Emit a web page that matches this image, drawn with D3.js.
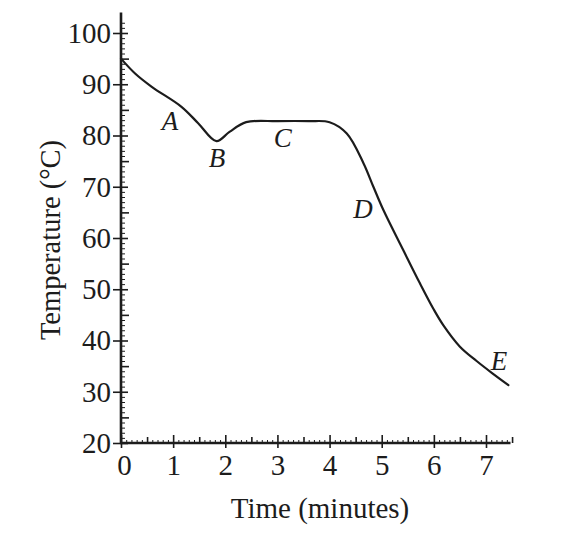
<!DOCTYPE html>
<html>
<head>
<meta charset="utf-8">
<script src="https://cdn.jsdelivr.net/npm/d3@7"></script>
<style>
  html, body { margin: 0; padding: 0; background: #fff; }
  svg { display: block; }
  text { font-family: "Liberation Serif", "DejaVu Serif", serif; fill: #1c1c1c; }
</style>
</head>
<body>
<svg id="chart" width="564" height="536"></svg>
<script>
// ---- data ----
const timeMin = [0, 0.27, 0.59, 1.16, 1.48, 1.83, 2.08, 2.4, 3.0, 3.6, 4.0, 4.33, 4.65, 4.84, 5.03, 5.41, 5.73, 5.99, 6.18, 6.5, 6.82, 7.11, 7.43];
const tempC   = [95, 92.1, 89.5, 85.6, 82.4, 78.9, 80.7, 82.6, 82.8, 82.8, 82.6, 80.4, 74.6, 70.0, 65.5, 57.7, 51.2, 46.2, 43.0, 38.8, 36.0, 33.7, 31.3];
const xTicks = [0, 1, 2, 3, 4, 5, 6, 7];
const yTicks = [20, 30, 40, 50, 60, 70, 80, 90, 100];
const pointLabels = ["A", "B", "C", "D", "E"];
const labelTime = [0.94, 1.84, 3.1, 4.64, 7.25];
const labelTemp = [81.1, 73.85, 77.8, 63.9, 34.2];

const svg = d3.select("#chart");
const x = d3.scaleLinear().domain([0, 7]).range([121, 486]);
const y = d3.scaleLinear().domain([20, 100]).range([443, 33]);
const ink = "#1c1c1c";

// minor ticks
const xHalf = d3.range(0.5, 7.6, 1);
const xTiny = d3.range(0, 7.45, 0.1).filter(v => Math.abs(v * 2 - Math.round(v * 2)) > 0.01);
const yFive = d3.range(25, 101, 10);
const yTiny = d3.range(20, 103, 1).filter(v => v % 5 !== 0);

function styleAxis(g) {
  g.select(".domain").remove();
  g.selectAll("line").attr("stroke", ink).attr("stroke-width", 1.6);
}

// Y axis tiny ticks
svg.append("g").attr("transform", `translate(${x(0)},0)`)
  .call(d3.axisRight(y).tickValues(yTiny).tickSize(4).tickFormat(""))
  .call(styleAxis).selectAll("line").attr("stroke-width", 1);
// Y axis 5-degree ticks
svg.append("g").attr("transform", `translate(${x(0)},0)`)
  .call(d3.axisRight(y).tickValues(yFive).tickSize(8).tickFormat(""))
  .call(styleAxis);
// Y major
const gy = svg.append("g").attr("transform", `translate(${x(0)},0)`)
  .call(d3.axisLeft(y).tickValues(yTicks).tickSize(8).tickPadding(4).tickFormat(d3.format("d")))
  .call(styleAxis);
gy.selectAll(".tick line").attr("x1", 7);
gy.selectAll(".tick text").attr("font-size", 29).attr("font-family", "Liberation Serif").attr("fill", ink).attr("x", -10);

// X tiny
svg.append("g").attr("transform", `translate(0,${y(20)})`)
  .call(d3.axisTop(x).tickValues(xTiny).tickSize(3).tickFormat(""))
  .call(styleAxis).selectAll("line").attr("stroke-width", 1);
// X half
svg.append("g").attr("transform", `translate(0,${y(20)})`)
  .call(d3.axisTop(x).tickValues(xHalf).tickSize(6).tickFormat(""))
  .call(styleAxis);
// X major
const gx = svg.append("g").attr("transform", `translate(0,${y(20)})`)
  .call(d3.axisBottom(x).tickValues(xTicks).tickSize(5).tickPadding(8).tickFormat(d3.format("d")))
  .call(styleAxis);
gx.selectAll(".tick line").attr("y1", -8);
gx.selectAll(".tick text").attr("font-size", 29).attr("font-family", "Liberation Serif").attr("fill", ink).attr("y", 11)
  .attr("dx", d => d === 0 ? 3 : 0);

// axis lines
svg.append("line").attr("x1", x(0)).attr("x2", x(0)).attr("y1", y(20) + 1).attr("y2", y(104))
  .attr("stroke", ink).attr("stroke-width", 2.6);
svg.append("line").attr("x1", x(0) - 1).attr("x2", x(7.47)).attr("y1", y(20)).attr("y2", y(20))
  .attr("stroke", ink).attr("stroke-width", 2.6);

// curve
const pts = timeMin.map((t, i) => [t, tempC[i]]);
svg.append("path").datum(pts)
  .attr("fill", "none").attr("stroke", ink).attr("stroke-width", 2.2)
  .attr("stroke-linejoin", "round").attr("stroke-linecap", "round")
  .attr("d", d3.line().x(d => x(d[0])).y(d => y(d[1])).curve(d3.curveCatmullRom.alpha(0.5)));

// point labels
svg.append("g").selectAll("text").data(pointLabels).join("text")
  .attr("x", (d, i) => x(labelTime[i]))
  .attr("y", (d, i) => y(labelTemp[i]))
  .attr("text-anchor", "middle")
  .attr("font-size", 27).attr("font-style", "italic")
  .text(d => d);

// axis titles
svg.append("text").attr("x", 320).attr("y", 518).attr("text-anchor", "middle")
  .attr("font-size", 29).text("Time (minutes)");
svg.append("text").attr("transform", "translate(60,240) rotate(-90)").attr("text-anchor", "middle")
  .attr("font-size", 28.5).text("Temperature (°C)");
</script>
</body>
</html>
